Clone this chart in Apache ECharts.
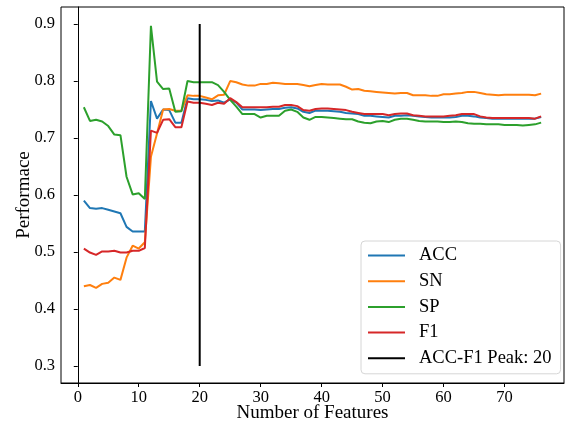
<!DOCTYPE html>
<html>
<head>
<meta charset="utf-8">
<script src="https://cdn.jsdelivr.net/npm/echarts@6/dist/echarts.min.js"></script>
<style>
  html, body { margin: 0; padding: 0; background: #fff; }
  #chart { width: 566px; height: 423px; }
</style>
</head>
<body>
<div id="chart"></div>
<script>
// number of features 1..76
var features = [];
for (var i = 1; i <= 76; i++) features.push(i);

var acc = [0.590, 0.577, 0.576, 0.577, 0.574, 0.571, 0.568, 0.544, 0.536, 0.536,
  0.536, 0.765, 0.734, 0.750, 0.749, 0.727, 0.727, 0.770, 0.768, 0.768,
  0.767, 0.765, 0.766, 0.762, 0.768, 0.762, 0.750, 0.750, 0.750, 0.749,
  0.750, 0.751, 0.751, 0.753, 0.754, 0.752, 0.746, 0.744, 0.748, 0.748,
  0.748, 0.747, 0.746, 0.744, 0.743, 0.742, 0.739, 0.739, 0.738, 0.737,
  0.736, 0.739, 0.739, 0.740, 0.739, 0.738, 0.737, 0.736, 0.736, 0.736,
  0.736, 0.737, 0.739, 0.739, 0.738, 0.736, 0.735, 0.734, 0.734, 0.734,
  0.734, 0.734, 0.734, 0.734, 0.734, 0.737];

var sn = [0.440, 0.442, 0.437, 0.444, 0.446, 0.455, 0.451, 0.490, 0.511, 0.506,
  0.517, 0.667, 0.708, 0.750, 0.751, 0.748, 0.748, 0.775, 0.774, 0.774,
  0.771, 0.768, 0.775, 0.776, 0.800, 0.798, 0.794, 0.792, 0.792, 0.795,
  0.795, 0.797, 0.796, 0.795, 0.795, 0.795, 0.793, 0.791, 0.793, 0.795,
  0.794, 0.794, 0.794, 0.790, 0.785, 0.786, 0.783, 0.782, 0.781, 0.780,
  0.779, 0.778, 0.779, 0.779, 0.775, 0.775, 0.775, 0.774, 0.774, 0.777,
  0.777, 0.778, 0.779, 0.781, 0.781, 0.779, 0.777, 0.776, 0.775, 0.776,
  0.776, 0.776, 0.776, 0.776, 0.775, 0.778];

var sp = [0.754, 0.730, 0.732, 0.729, 0.721, 0.706, 0.705, 0.632, 0.601, 0.603,
  0.593, 0.897, 0.799, 0.786, 0.787, 0.746, 0.747, 0.800, 0.798, 0.798,
  0.798, 0.798, 0.793, 0.781, 0.767, 0.755, 0.742, 0.742, 0.742, 0.736,
  0.739, 0.739, 0.739, 0.748, 0.750, 0.746, 0.736, 0.732, 0.737, 0.737,
  0.736, 0.735, 0.734, 0.733, 0.733, 0.729, 0.727, 0.726, 0.729, 0.730,
  0.728, 0.732, 0.734, 0.734, 0.732, 0.730, 0.729, 0.729, 0.729, 0.728,
  0.728, 0.729, 0.728, 0.726, 0.725, 0.725, 0.724, 0.724, 0.724, 0.723,
  0.723, 0.723, 0.722, 0.723, 0.724, 0.727];

var f1 = [0.506, 0.499, 0.495, 0.501, 0.501, 0.502, 0.499, 0.499, 0.502, 0.502,
  0.507, 0.713, 0.709, 0.732, 0.733, 0.719, 0.719, 0.764, 0.762, 0.762,
  0.760, 0.758, 0.762, 0.760, 0.770, 0.763, 0.754, 0.754, 0.754, 0.754,
  0.754, 0.755, 0.755, 0.758, 0.758, 0.756, 0.749, 0.748, 0.751, 0.752,
  0.752, 0.751, 0.750, 0.749, 0.746, 0.744, 0.742, 0.742, 0.742, 0.742,
  0.740, 0.742, 0.743, 0.743, 0.740, 0.739, 0.738, 0.738, 0.738, 0.738,
  0.739, 0.740, 0.742, 0.742, 0.742, 0.738, 0.736, 0.735, 0.735, 0.735,
  0.735, 0.735, 0.735, 0.735, 0.734, 0.738];

var peakX = 20;
var peakLine = [[peakX, 0.3], [peakX, 0.9]];

var xTicks = [0, 10, 20, 30, 40, 50, 60, 70];
var yTicks = [0.3, 0.4, 0.5, 0.6, 0.7, 0.8, 0.9];

function pairs(ys) {
  return ys.map(function (v, i) { return [features[i], v]; });
}

var font = '"Liberation Serif", "DejaVu Serif", serif';
var chart = echarts.init(document.getElementById('chart'));

function lineSeries(name, data, color) {
  return {
    name: name,
    type: 'line',
    data: data,
    symbol: 'none',
    silent: true,
    animation: false,
    lineStyle: { color: color, width: 2 },
    itemStyle: { color: color }
  };
}

var option = {
  backgroundColor: '#fff',
  animation: false,
  grid: {
    left: 61, right: 2, top: 7, bottom: 40,
    outerBoundsMode: 'none',
    containLabel: false,
    show: true, borderColor: '#000', borderWidth: 1
  },
  legend: {
    orient: 'vertical',
    left: 361,
    top: 241,
    padding: [5, 9, 6, 7],
    icon: 'rect',
    itemWidth: 37,
    itemHeight: 2,
    itemGap: 6.7,
    backgroundColor: '#fff',
    borderColor: '#d6d6d6',
    borderWidth: 1,
    borderRadius: 4,
    textStyle: { fontFamily: font, fontSize: 18.5, color: '#000', padding: [0, 0, 0, 9] },
    data: ['ACC', 'SN', 'SP', 'F1', 'ACC-F1 Peak: 20']
  },
  xAxis: {
    type: 'value',
    min: -2.75,
    max: 79.75,
    name: 'Number of Features',
    nameLocation: 'middle',
    nameGap: 21,
    nameMoveOverlap: false,
    nameTextStyle: { fontFamily: font, fontSize: 19, color: '#000' },
    axisLine: { show: true, lineStyle: { color: '#000', width: 1 } },
    axisTick: { show: true, inside: false, length: 4, customValues: xTicks, lineStyle: { color: '#000' } },
    axisLabel: { customValues: xTicks, fontFamily: font, fontSize: 16.5, color: '#000', margin: 6 },
    splitLine: { show: false }
  },
  yAxis: {
    type: 'value',
    min: 0.27,
    max: 0.93,
    name: 'Performace',
    nameLocation: 'middle',
    nameGap: 27,
    nameMoveOverlap: false,
    nameRotate: 90,
    nameTextStyle: { fontFamily: font, fontSize: 19, color: '#000' },
    axisLine: { show: true, lineStyle: { color: '#000', width: 1 } },
    axisTick: { show: true, inside: false, length: 4, customValues: yTicks, lineStyle: { color: '#000' } },
    axisLabel: {
      customValues: yTicks, fontFamily: font, fontSize: 16.5, color: '#000', margin: 6,
      formatter: function (v) { return v.toFixed(1); }
    },
    splitLine: { show: false }
  },
  series: [
    lineSeries('ACC', pairs(acc), '#1f77b4'),
    lineSeries('SN', pairs(sn), '#ff7f0e'),
    lineSeries('SP', pairs(sp), '#2ca02c'),
    lineSeries('F1', pairs(f1), '#d62728'),
    lineSeries('ACC-F1 Peak: 20', peakLine, '#000000')
  ]
};

chart.setOption(option);
</script>
</body>
</html>
